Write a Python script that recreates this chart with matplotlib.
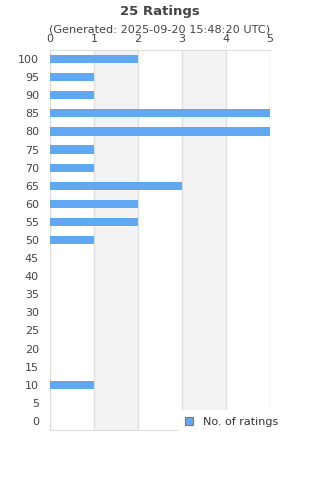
import numpy as np
import matplotlib.pyplot as plt

ratings = [100, 95, 90, 85, 80, 75, 70, 65, 60, 55, 50, 45, 40, 35, 30, 25, 20, 15, 10, 5, 0]
counts = [2, 1, 1, 5, 5, 1, 1, 3, 2, 2, 1, 0, 0, 0, 0, 0, 0, 0, 1, 0, 0]
xticks = [0, 1, 2, 3, 4, 5]

fig = plt.figure(figsize=(3.2, 4.8), dpi=100)
ax = fig.add_axes([50/320, 1 - 430/480, 220/320, 380/480])

y = np.arange(len(ratings))
ax.barh(y, counts, height=0.45, color='#60a8f2', zorder=3, label='No. of ratings')
ax.set_ylim(len(ratings) - 0.5, -0.5)
ax.set_xlim(0, 5)

# alternating bands
for k in range(1, 5, 2):
    ax.axvspan(k, k + 1, color='#f3f3f3', zorder=0, lw=0)
for k in xticks:
    ax.axvline(k, color='#e0e0e0', lw=1, zorder=1)

ax.set_yticks(y)
ax.set_yticklabels([str(r) for r in ratings])
ax.set_xticks(xticks)
ax.xaxis.tick_top()
ax.tick_params(axis='both', length=0, labelsize=8, colors='#444444')
ax.tick_params(axis='x', pad=4.5)
ax.tick_params(axis='y', pad=8)
for s in ['top', 'left', 'bottom']:
    ax.spines[s].set_color('#dddddd')
ax.spines['right'].set_visible(False)

fig.text(0.5, 1 - 11/480, '25 Ratings', ha='center', va='center',
         fontsize=9.5, fontweight='bold', color='#444444')
fig.text(0.5, 1 - 30/480, '(Generated: 2025-09-20 15:48:20 UTC)', ha='center',
         va='center', fontsize=8.1, color='#444444')

leg = fig.legend(loc='center left', bbox_to_anchor=(173/320, 1 - 422/480),
                 fontsize=8, frameon=True, fancybox=False, borderpad=0.6,
                 handlelength=0.7, handleheight=0.7, handletextpad=0.9)
leg.get_frame().set_facecolor('white')
leg.get_frame().set_edgecolor('white')
leg.get_frame().set_alpha(1)
for h in leg.legend_handles:
    h.set_edgecolor('#777777')
    h.set_linewidth(0.8)
for t in leg.get_texts():
    t.set_color('#333333')

fig.savefig('out.png', dpi=100)
